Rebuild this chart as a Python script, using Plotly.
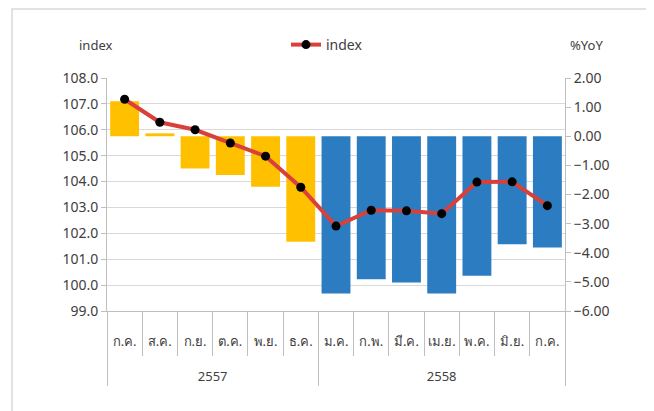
import plotly.graph_objects as go

years = ["2557"] * 6 + ["2558"] * 7
# the second July gets a zero-width space so the two-level axis keeps both Julys distinct
months = ["ก.ค.", "ส.ค.", "ก.ย.", "ต.ค.", "พ.ย.", "ธ.ค.",
          "ม.ค.", "ก.พ.", "มี.ค.", "เม.ย.", "พ.ค.", "มิ.ย.", "ก.ค.\u200b"]
yoy = [1.20, 0.10, -1.11, -1.33, -1.73, -3.62,
       -5.40, -4.91, -5.02, -5.40, -4.79, -3.71, -3.82]
index_vals = [107.18, 106.29, 106.00, 105.49, 104.98, 103.78,
              102.28, 102.89, 102.87, 102.76, 103.98, 103.99, 103.07]

year_colors = {"2557": "#FFC000", "2558": "#2B7CC1"}
bar_colors = [year_colors[y] for y in years]
# month labels get blank lines below so the year row sits lower
month_labels = [m + "<br> <br> " for m in months]

# page body has an 8px margin: positions below are screen pixels minus OFF
OFF = 8
W, H = 654, 411
L = 107 - OFF
T = 78 - OFF
R = W - (565 - OFF)
B = H - (311 - OFF)
pw, ph = W - L - R, H - T - B

def px_x(x):
    return (x - OFF - L) / pw

def px_y(y):
    return (T + ph - (y - OFF)) / ph

font_family = "Noto Sans, DejaVu Sans, sans-serif"
text_color = "#404040"
grid_color = "#D9D9D9"
axis_color = "#BFBFBF"

fig = go.Figure()
fig.add_trace(go.Bar(
    x=[years, month_labels], y=yoy, marker=dict(color=bar_colors, line_width=0),
    width=0.82, showlegend=False, yaxis="y", name="%YoY",
))
fig.add_trace(go.Scatter(
    x=[years, month_labels], y=index_vals, mode="lines+markers", name="index",
    line=dict(color="#D9403A", width=4),
    marker=dict(color="black", size=9),
    yaxis="y2",
))

fig.update_layout(
    width=W, height=H,
    margin=dict(l=L, r=R, t=T, b=B, pad=0, autoexpand=False),
    paper_bgcolor="white", plot_bgcolor="white",
    font=dict(family=font_family, color=text_color, size=14),
    xaxis=dict(
        type="multicategory", automargin=False, tickangle=0,
        range=[-0.5, len(months) - 0.5], autorange=False,
        showline=True, linecolor=axis_color, linewidth=1,
        showgrid=False,
        ticks="outside", ticklen=44, tickcolor=axis_color, tickwidth=1,
        ticklabelstandoff=18,
        showdividers=True, dividercolor=axis_color, dividerwidth=1,
        tickfont=dict(size=13, color=text_color),
    ),
    yaxis=dict(
        side="right", range=[-6, 2], dtick=1, tickformat=".2f", automargin=False,
        showgrid=False, zeroline=False,
        showline=True, linecolor=axis_color, linewidth=1,
        ticks="outside", ticklen=5, tickcolor=axis_color,
        tickfont=dict(size=14, color=text_color),
    ),
    yaxis2=dict(
        overlaying="y", side="left", range=[99, 108], dtick=1, tickformat=".1f",
        automargin=False,
        showgrid=True, gridcolor=grid_color, gridwidth=1, zeroline=False,
        showline=True, linecolor=axis_color, linewidth=1,
        ticks="outside", ticklen=5, tickcolor=axis_color,
        tickfont=dict(size=14, color=text_color),
    ),
    legend=dict(
        orientation="h", x=px_x(327), xanchor="center", y=px_y(45), yanchor="middle",
        font=dict(size=14, color=text_color), bgcolor="rgba(0,0,0,0)",
    ),
    annotations=[
        dict(text="index", x=px_x(95), y=px_y(45), xref="paper", yref="paper",
             xanchor="center", yanchor="middle",
             showarrow=False, font=dict(size=13, color=text_color)),
        dict(text="%YoY", x=px_x(586), y=px_y(45), xref="paper", yref="paper",
             xanchor="center", yanchor="middle",
             showarrow=False, font=dict(size=13, color=text_color)),
    ],
    shapes=[
        dict(type="rect", xref="paper", yref="paper",
             x0=px_x(12), x1=px_x(648), y0=px_y(440), y1=px_y(9),
             line=dict(color="#D9D9D9", width=1.5), fillcolor="rgba(0,0,0,0)", layer="below"),
    ],
)

fig.write_html("out.html")
